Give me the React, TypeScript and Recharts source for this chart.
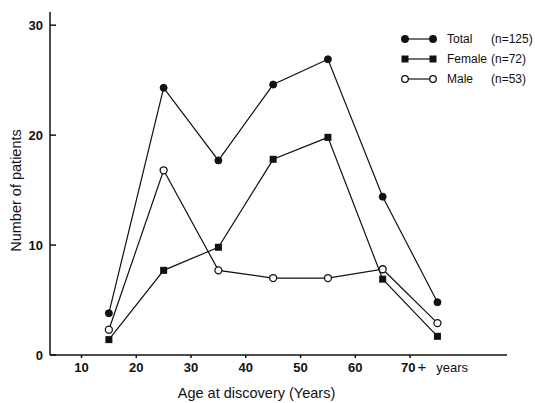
import { Legend, Line, LineChart, XAxis, YAxis } from "recharts";

const ages = [15, 25, 35, 45, 55, 65, 75];
const total = [3.8, 24.3, 17.7, 24.6, 26.9, 14.4, 4.8];
const female = [1.4, 7.7, 9.8, 17.8, 19.8, 6.9, 1.7];
const male = [2.3, 16.8, 7.7, 7.0, 7.0, 7.8, 2.9];
const xTicks = [10, 20, 30, 40, 50, 60, 70];
const yTicks = [0, 10, 20, 30];
const legendRows = [
  { name: "Total", n: "(n=125)", shape: "circle", fill: "#111" },
  { name: "Female", n: "(n=72)", shape: "square", fill: "#111" },
  { name: "Male", n: "(n=53)", shape: "circle", fill: "#fff" },
];

const data = ages.map((a, i) => ({
  age: a,
  total: total[i],
  female: female[i],
  male: male[i],
}));

const INK = "#111";
const FONT = "'Liberation Sans', Arial, sans-serif";

const SquareDot = (props: any) => {
  const { cx, cy } = props;
  if (cx == null || cy == null) return null;
  return <rect x={cx - 3.5} y={cy - 3.5} width={7} height={7} fill={INK} />;
};

const YTick = (props: any) => {
  const { x, y, payload } = props;
  return (
    <g>
      <line x1={x} x2={x + 6} y1={y} y2={y} stroke={INK} strokeWidth={1.5} />
      <text x={x - 7} y={y + 5} textAnchor="end" fontSize={13} fontWeight="bold" fill={INK} fontFamily={FONT}>
        {payload.value}
      </text>
    </g>
  );
};

const XTick = (props: any) => {
  const { x, y, payload } = props;
  if (payload.value === 70) {
    return (
      <text x={x - 9} y={y + 12} fontSize={13} fill={INK} fontFamily={FONT}>
        <tspan fontWeight="bold">70</tspan>
        <tspan dx={2} fontSize={15}>+</tspan>
        <tspan dx={10}>years</tspan>
      </text>
    );
  }
  return (
    <text x={x} y={y + 12} textAnchor="middle" fontSize={13} fontWeight="bold" fill={INK} fontFamily={FONT}>
      {payload.value}
    </text>
  );
};

const LegendBox = () => (
  <svg width={140} height={60}>
    {legendRows.map((r, i) => {
      const cy = 10 + i * 20;
      return (
        <g key={r.name}>
          <line x1={10} x2={38} y1={cy} y2={cy} stroke={INK} strokeWidth={1.2} />
          {[10, 38].map((cx) =>
            r.shape === "square" ? (
              <rect key={cx} x={cx - 3.5} y={cy - 3.5} width={7} height={7} fill={INK} />
            ) : (
              <circle key={cx} cx={cx} cy={cy} r={3.3} fill={r.fill} stroke={INK} strokeWidth={1.3} />
            )
          )}
          <text x={52} y={cy + 4} fontSize={12} fill={INK} fontFamily={FONT}>
            {r.name}
          </text>
          <text x={96} y={cy + 4} fontSize={12} fill={INK} fontFamily={FONT}>
            {r.n}
          </text>
        </g>
      );
    })}
  </svg>
);

export default function App() {
  return (
    <div style={{ position: "absolute", left: 0, top: 0, background: "#fff" }}>
      <LineChart
        width={535}
        height={403}
        data={data}
        margin={{ top: 12, right: 28, bottom: 0, left: 0 }}
      >
        <XAxis
          dataKey="age"
          type="number"
          domain={[4.25, 87.7]}
          ticks={xTicks}
          tick={<XTick />}
          tickSize={3}
          height={48}
          stroke={INK}
          strokeWidth={1.5}
          allowDataOverflow
          label={(p: any) => {
            const vb = p.viewBox;
            return (
              <text x={vb.x + vb.width / 2 - 22} y={vb.y + 43} textAnchor="middle" fontSize={14.5} fill={INK} fontFamily={FONT}>
                Age at discovery (Years)
              </text>
            );
          }}
        />
        <YAxis
          type="number"
          domain={[0, 31.2]}
          ticks={yTicks}
          tick={<YTick />}
          tickLine={false}
          tickSize={0}
          tickMargin={0}
          width={50}
          stroke={INK}
          strokeWidth={1.5}
          allowDataOverflow
          label={(p: any) => {
            const vb = p.viewBox;
            const cx = vb.x + 21;
            const cy = vb.y + vb.height / 2 + 7;
            return (
              <text x={cx} y={cy} transform={`rotate(-90 ${cx} ${cy})`} textAnchor="middle" fontSize={14.5} fill={INK} fontFamily={FONT}>
                Number of patients
              </text>
            );
          }}
        />
        <Legend
          layout="horizontal"
          verticalAlign="middle"
          align="center"
          content={<LegendBox />}
          wrapperStyle={{ position: "absolute", left: 395, top: 29, width: 140, height: 60 }}
        />
        <Line
          dataKey="total"
          stroke={INK}
          strokeWidth={1.2}
          dot={{ r: 3.5, fill: INK, stroke: INK, strokeWidth: 1 }}
          isAnimationActive={false}
        />
        <Line
          dataKey="female"
          stroke={INK}
          strokeWidth={1.2}
          dot={<SquareDot />}
          isAnimationActive={false}
        />
        <Line
          dataKey="male"
          stroke={INK}
          strokeWidth={1.2}
          dot={{ r: 3.5, fill: "#fff", stroke: INK, strokeWidth: 1.3 }}
          isAnimationActive={false}
        />
      </LineChart>
    </div>
  );
}
